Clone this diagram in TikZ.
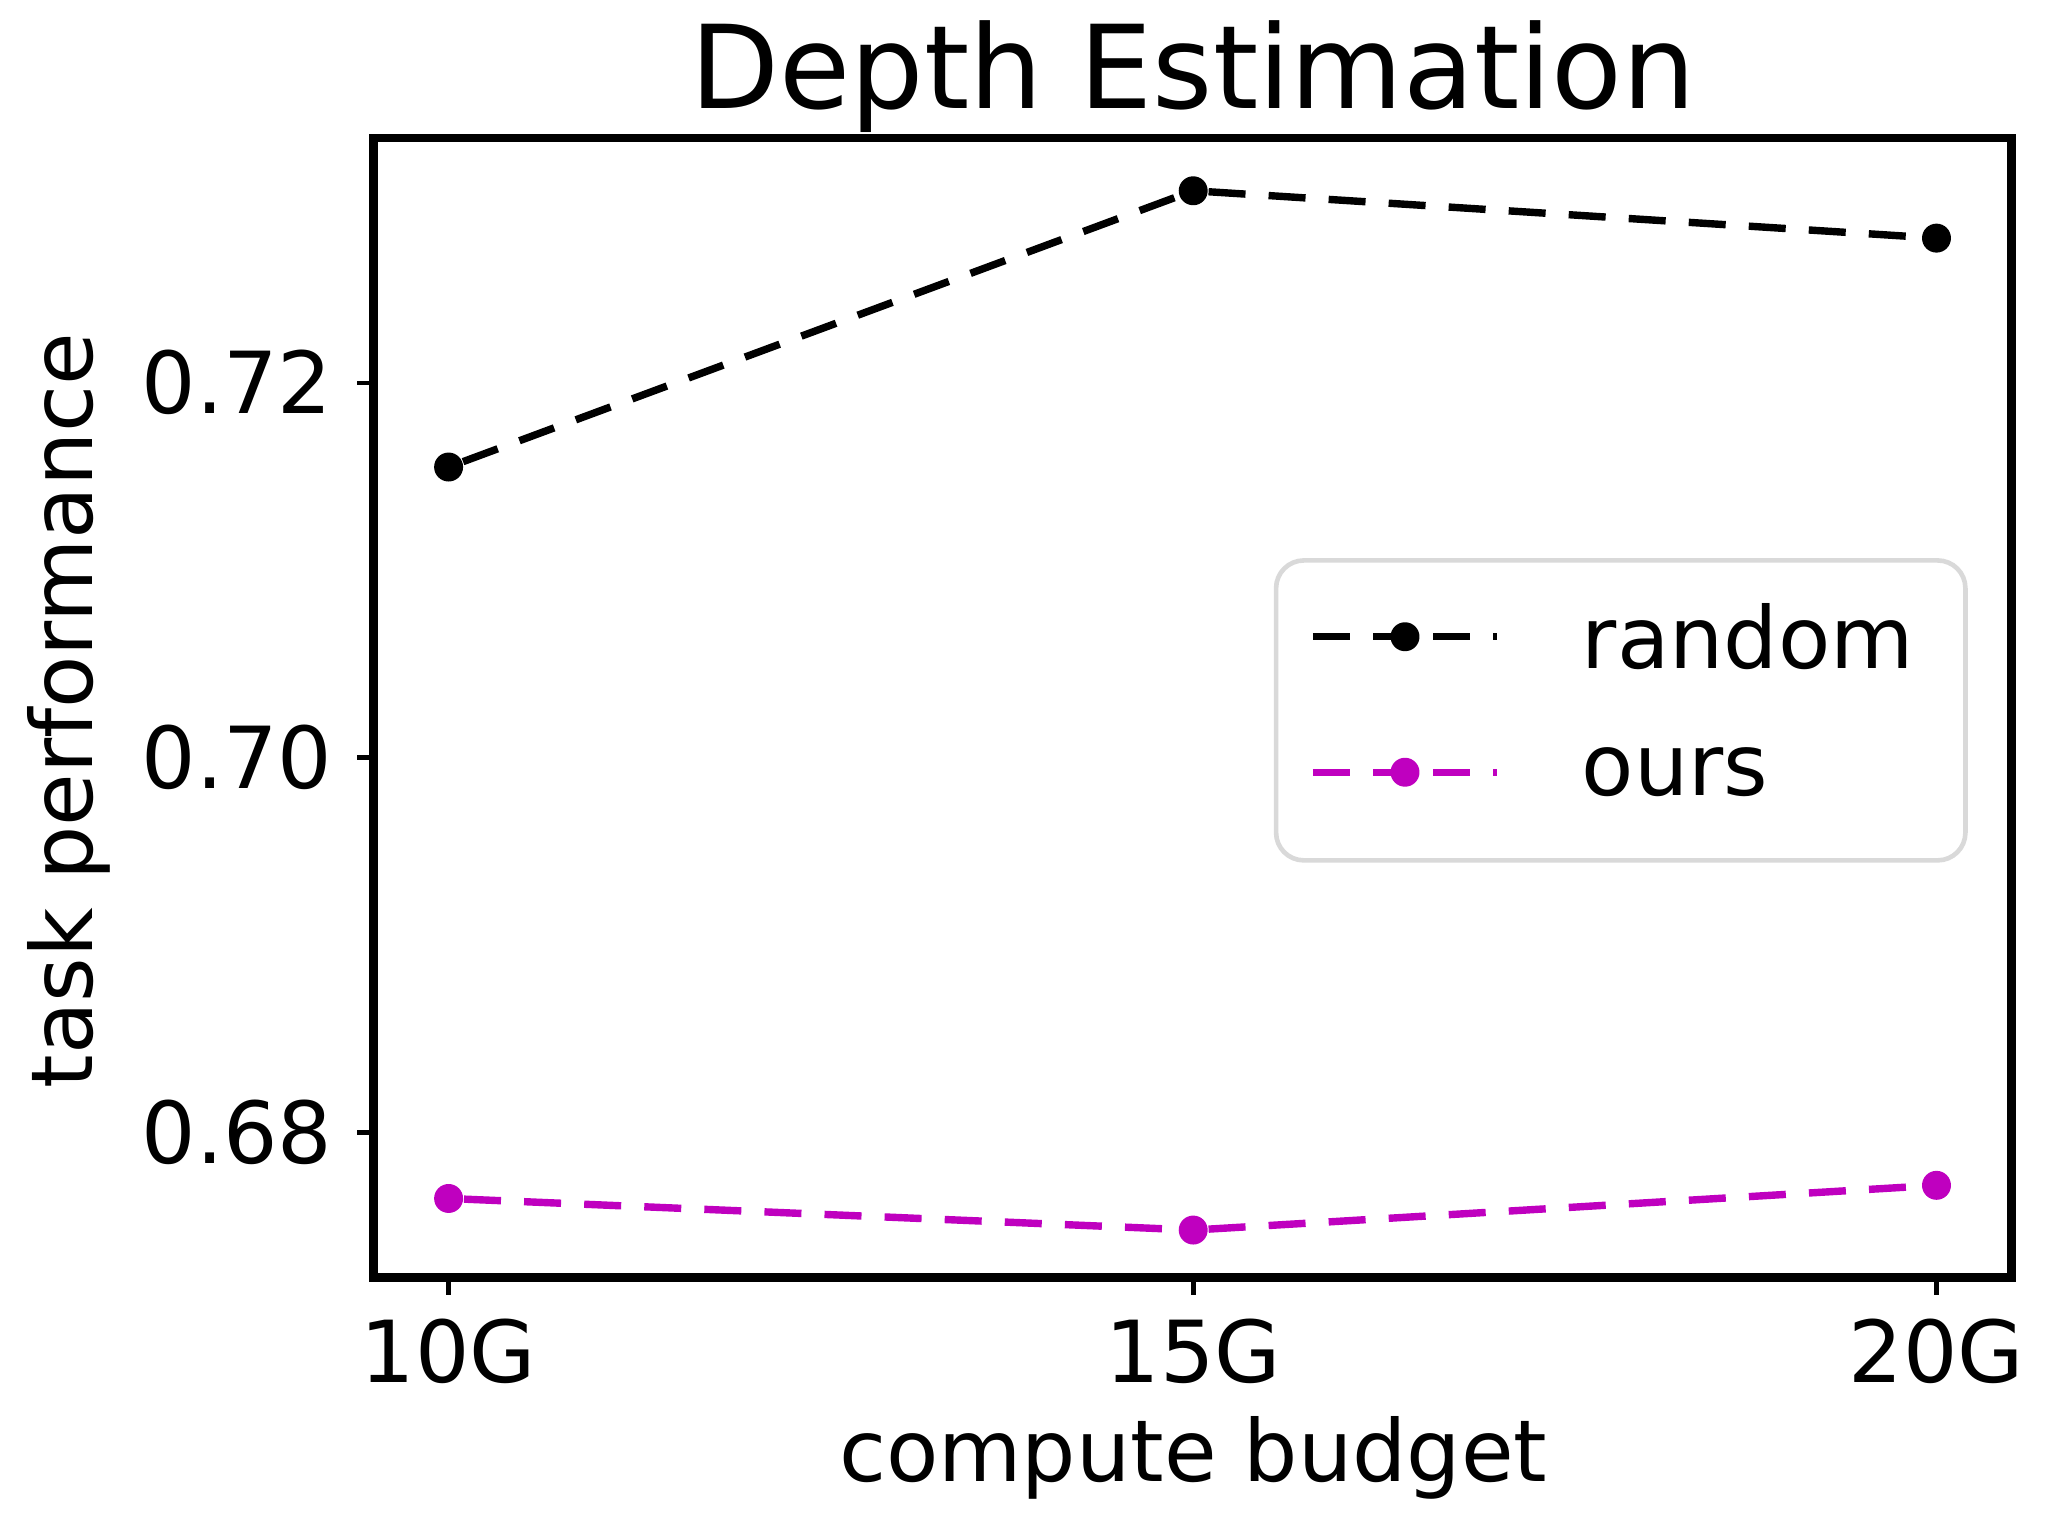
\documentclass[tikz,border=0pt]{standalone}
\usepackage{fontspec}
\setmainfont{DejaVu Sans}
\usetikzlibrary{positioning}

\begin{document}
\begin{tikzpicture}[x=0.01cm, y=-0.01cm,
  dot/.style={circle, fill=#1, inner sep=0pt, minimum size=0.22cm},
  series/.style={line width=1.6pt, dash pattern=on 8pt off 5pt, #1},
  ticklab/.style={font=\fontsize{18.5}{20}\selectfont}]
\useasboundingbox (0,0) rectangle (1556,1160);

\node[font=\fontsize{25}{28}\selectfont] (title) at (907,58) {Depth Estimation};

% axes frame
\draw[line width=1.8pt] (284,105) rectangle (1529,971);

% x ticks
\foreach \x/\lab in {341/10G, 907/15G, 1472/20G} {
  \draw[line width=1pt] (\x,971) -- (\x,984);
  \node[ticklab, anchor=north] at (\x,990) {\lab};
}
% y ticks
\foreach \y/\lab in {291/0.72, 576/0.70, 861/0.68} {
  \draw[line width=1pt] (284,\y) -- (271,\y);
  \node[ticklab, anchor=east] at (265,\y) {\lab};
}
\node[ticklab] (xlab) at (907,1108) {compute budget};
\node[ticklab, rotate=90] (ylab) at (52,540) {task performance};

% random
\node[dot=black] (r1) at (341,355) {};
\node[dot=black] (r2) at (907,145) {};
\node[dot=black] (r3) at (1472,181) {};
\draw[series=black] (r1) -- (r2) -- (r3);

% ours
\definecolor{ourscol}{RGB}{191,0,191}
\node[dot=ourscol] (o1) at (341,911) {};
\node[dot=ourscol] (o2) at (907,935) {};
\node[dot=ourscol] (o3) at (1472,901) {};
\draw[series=ourscol] (o1) -- (o2) -- (o3);

% legend
\draw[draw=black!15, line width=1pt, rounded corners=6pt, fill=white] (970,426) rectangle (1494,654);
\coordinate (la) at (998,484);
\coordinate (lb) at (1138,484);
\draw[series=black] (la) -- (lb);
\node[dot=black] (lr) at (1068,484) {};
\node[ticklab, anchor=west] (lrt) at (1190,484) {random};
\coordinate (lc) at (998,587);
\coordinate (ld) at (1138,587);
\draw[series=ourscol] (lc) -- (ld);
\node[dot=ourscol] (lo) at (1068,587) {};
\node[ticklab, anchor=west] (lot) at (1190,587) {ours};
\end{tikzpicture}
\end{document}
